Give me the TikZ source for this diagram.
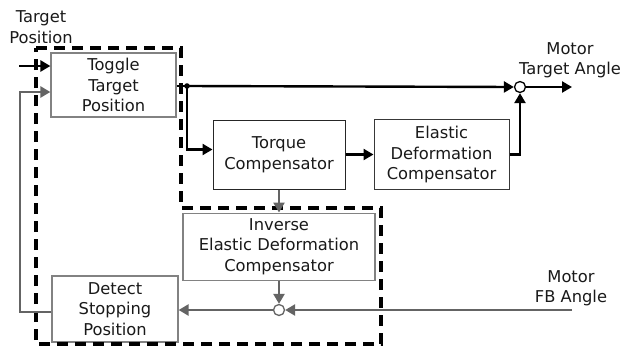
\documentclass[tikz,border=0pt]{standalone}
\usepackage{fontspec}
\setmainfont{DejaVu Sans}
\usetikzlibrary{positioning, arrows.meta}
\definecolor{fbgray}{RGB}{100,100,100}
\definecolor{boxgray}{RGB}{130,130,130}
\definecolor{txtgray}{RGB}{25,25,25}

\begin{document}
\begin{tikzpicture}[x=1pt, y=-1pt, node distance=23pt and 28pt,
      every node/.style={font=\fontsize{16.3}{20.5}\selectfont, text=txtgray},
      blk/.style={draw=boxgray, line width=1.2pt, align=center, inner sep=0pt},
      sumpt/.style={circle, draw=fbgray, line width=1.3pt, fill=white,
                    minimum size=11pt, inner sep=0pt},
      fwd/.style={-{Triangle[length=10pt,width=11pt]}, line width=2.4pt, black},
      fbk/.style={-{Triangle[length=10pt,width=11pt]}, line width=2.4pt, fbgray},
      grp/.style={dash pattern=on 11pt off 7pt, line width=3.6pt, black}]
    \useasboundingbox (0,0) rectangle (624,346);
    \node[blk, minimum width=125pt, minimum height=64pt] (tgl) at (113.5,85)
      {Toggle\\ Target\\ Position};
    \node[blk, draw=black!85, line width=1pt, minimum width=132pt, minimum height=69pt] (trq) at (279,154.5)
      {Torque\\ Compensator};
    \node[blk, draw=black!78, line width=1.1pt, minimum width=135pt, minimum height=70pt, right=of trq] (eld)
      {Elastic\\ Deformation\\ Compensator};
    \node[blk, minimum width=192pt, minimum height=67pt, below=of trq] (ied)
      {Inverse\\ Elastic Deformation\\ Compensator};
    \node[blk, minimum width=126pt, minimum height=66pt] (dsp) at (115,309)
      {Detect\\ Stopping\\ Position};
    \node[sumpt, draw=black] (sumtop) at (520,87) {};
    \node[sumpt] (sumbot) at (279,310) {};
    \node[align=center] (tgtpos) at (41,27) {Target\\ Position};
    \node[align=center] (mta) at (570,60) {Motor\\ Target Angle};
    \node[align=center] (mfb) at (571,288) {Motor\\ FB Angle};
    \coordinate (tgtin) at (19,66);
    \coordinate (jn) at (187,86);
    \coordinate (mtaout) at (572,87);
    \coordinate (fbin) at (572,310);
    \draw[grp] (36,48) -- (181,48) -- (181,208) -- (381,208) -- (381,344) -- (36,344) -- cycle;
    \draw[fwd] (tgtin) -- ([yshift=19pt]tgl.west);
    \draw[line width=2.4pt] ([yshift=-1pt]tgl.east) -- (jn);
    \draw[fwd] (jn) -- (sumtop.west);
    \fill (jn) circle (2.8pt);
    \draw[fwd] (jn) |- ([yshift=5pt]trq.west);
    \draw[fwd] (trq) -- (eld);
    \draw[fwd] (eld.east) -| (sumtop.south);
    \draw[fwd] (sumtop.east) -- (mtaout);
    \draw[fbk] (trq) -- (ied);
    \draw[fbk] (ied) -- (sumbot);
    \draw[fbk] (fbin) -- (sumbot.east);
    \draw[fbk] (sumbot.west) -- (dsp.east |- sumbot);
    \draw[fbk] (dsp.west |- 0,312) -| (20,92) -- ([yshift=-7pt]tgl.west);
  \end{tikzpicture}
\end{document}
